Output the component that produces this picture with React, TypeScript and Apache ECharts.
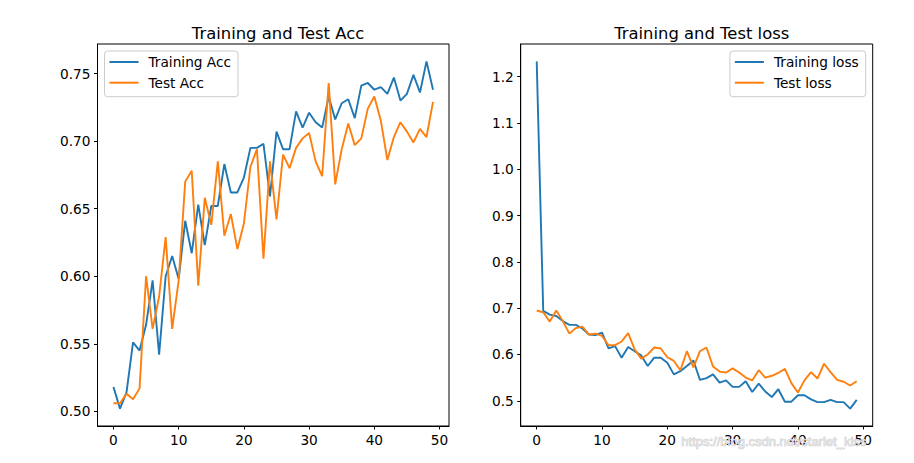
import React, { useEffect, useRef } from "react";
import * as echarts from "echarts";

const trainAcc = [0.518,0.502,0.514,0.551,0.545,0.564,0.597,0.542,0.600,0.615,0.598,0.641,0.617,0.653,0.623,0.652,0.652,0.683,0.662,0.662,0.673,0.695,0.695,0.698,0.659,0.707,0.694,0.694,0.722,0.710,0.721,0.714,0.710,0.733,0.716,0.728,0.731,0.717,0.741,0.743,0.738,0.740,0.735,0.747,0.730,0.735,0.749,0.736,0.759,0.738];
const testAcc = [0.506,0.506,0.513,0.509,0.517,0.600,0.561,0.585,0.629,0.561,0.597,0.670,0.678,0.593,0.658,0.638,0.685,0.630,0.646,0.620,0.639,0.681,0.694,0.613,0.685,0.642,0.690,0.680,0.695,0.702,0.706,0.685,0.674,0.743,0.668,0.694,0.713,0.697,0.702,0.724,0.733,0.715,0.686,0.703,0.714,0.707,0.699,0.709,0.703,0.729];
const trainLoss = [1.233,0.694,0.686,0.683,0.672,0.664,0.664,0.656,0.643,0.642,0.647,0.613,0.618,0.593,0.616,0.607,0.598,0.575,0.593,0.593,0.582,0.557,0.564,0.575,0.587,0.545,0.549,0.557,0.539,0.544,0.530,0.530,0.542,0.519,0.537,0.520,0.508,0.525,0.498,0.498,0.512,0.512,0.503,0.497,0.497,0.502,0.497,0.497,0.483,0.502];
const testLoss = [0.695,0.691,0.671,0.695,0.672,0.645,0.657,0.660,0.643,0.645,0.640,0.620,0.620,0.628,0.646,0.611,0.591,0.600,0.615,0.613,0.594,0.586,0.566,0.607,0.572,0.607,0.615,0.574,0.563,0.561,0.570,0.561,0.550,0.544,0.566,0.550,0.554,0.560,0.569,0.538,0.518,0.544,0.562,0.548,0.580,0.562,0.545,0.541,0.533,0.542];

const xTicks = [0, 10, 20, 30, 40, 50];
const accTicks = [0.50, 0.55, 0.60, 0.65, 0.70, 0.75];
const lossTicks = [0.5, 0.6, 0.7, 0.8, 0.9, 1.0, 1.1, 1.2];

const titles = ["Training and Test Acc", "Training and Test loss"];
const seriesNames = ["Training Acc", "Test Acc", "Training loss", "Test loss"];
const watermark = "https://blog.csdn.net/starlet_kiss";

const BLUE = "#1f77b4";
const ORANGE = "#ff7f0e";
const FONT = "DejaVu Sans";

function pairs(arr: number[]) {
  return arr.map((v, i) => [i, v]);
}
function padRange(arrs: number[][]) {
  const all = arrs.flat();
  const lo = Math.min(...all);
  const hi = Math.max(...all);
  const m = (hi - lo) * 0.05;
  return [lo - m, hi + m];
}

export default function App() {
  const ref = useRef<HTMLDivElement>(null);
  useEffect(() => {
    if (!ref.current) return;
    const chart = echarts.init(ref.current, null, { renderer: "svg" });
    const n = trainAcc.length;
    const xMin = -(n - 1) * 0.05;
    const xMax = (n - 1) * 1.05;
    const [accMin, accMax] = padRange([trainAcc, testAcc]);
    const [lossMin, lossMax] = padRange([trainLoss, testLoss]);

    const xAxisBase = (gridIndex: number) => ({
      type: "value",
      gridIndex,
      min: xMin,
      max: xMax,
      axisLine: { show: true, onZero: false, lineStyle: { color: "#000", width: 1 } },
      axisTick: { show: true, length: 3.5, customValues: xTicks, lineStyle: { color: "#000", width: 1 } },
      axisLabel: {
        show: true,
        customValues: xTicks,
        margin: 7,
        color: "#000",
        fontSize: 13.7,
        fontFamily: FONT,
        formatter: (v: number) => String(v),
      },
      splitLine: { show: false },
    });
    const yAxisBase = (gridIndex: number, min: number, max: number, ticks: number[], dec: number) => ({
      type: "value",
      gridIndex,
      min,
      max,
      axisLine: { show: true, onZero: false, lineStyle: { color: "#000", width: 1 } },
      axisTick: { show: true, length: 3.5, customValues: ticks, lineStyle: { color: "#000", width: 1 } },
      axisLabel: {
        show: true,
        customValues: ticks,
        margin: 7,
        color: "#000",
        fontSize: 13.7,
        fontFamily: FONT,
        formatter: (v: number) => v.toFixed(dec),
      },
      splitLine: { show: false },
    });

    const legendBase = {
      orient: "vertical",
      top: 51,
      icon: "rect",
      itemWidth: 29,
      itemHeight: 2,
      itemGap: 4.7,
      padding: [3, 7, 6, 5],
      backgroundColor: "rgba(255,255,255,0.8)",
      borderColor: "#cccccc",
      borderWidth: 1,
      borderRadius: 3,
      textStyle: {
        color: "#000",
        fontSize: 13.7,
        fontFamily: FONT,
        lineHeight: 16,
        padding: [0, 0, 0, 5],
      },
    };

    const lineSeries = (name: string, data: number[], color: string, idx: number) => ({
      type: "line",
      name,
      data: pairs(data),
      xAxisIndex: idx,
      yAxisIndex: idx,
      showSymbol: false,
      symbol: "none",
      color,
      lineStyle: { color, width: 1.9 },
      emphasis: { disabled: true },
    });

    chart.setOption({
      animation: false,
      backgroundColor: "#fff",
      title: [
        {
          text: titles[0],
          left: 273,
          top: 20,
          textAlign: "center",
          textStyle: { fontSize: 16.4, fontWeight: "normal", color: "#000", fontFamily: FONT },
        },
        {
          text: titles[1],
          left: 696.7,
          top: 20,
          textAlign: "center",
          textStyle: { fontSize: 16.4, fontWeight: "normal", color: "#000", fontFamily: FONT },
        },
      ],
      grid: [
        { left: 97.5, top: 44, width: 351.5, height: 382, show: true, borderColor: "#000", borderWidth: 1, backgroundColor: "#fff" },
        { left: 520.7, top: 44, width: 352, height: 382, show: true, borderColor: "#000", borderWidth: 1, backgroundColor: "#fff" },
      ],
      xAxis: [xAxisBase(0), xAxisBase(1)],
      yAxis: [
        yAxisBase(0, accMin, accMax, accTicks, 2),
        yAxisBase(1, lossMin, lossMax, lossTicks, 1),
      ],
      legend: [
        { ...legendBase, left: 104.5, data: [seriesNames[0], seriesNames[1]] },
        { ...legendBase, right: 48.3, data: [seriesNames[2], seriesNames[3]] },
      ],
      series: [
        lineSeries(seriesNames[0], trainAcc, BLUE, 0),
        lineSeries(seriesNames[1], testAcc, ORANGE, 0),
        lineSeries(seriesNames[2], trainLoss, BLUE, 1),
        lineSeries(seriesNames[3], testLoss, ORANGE, 1),
      ],
      graphic: [
        {
          type: "text",
          left: 681,
          top: 435,
          z: 100,
          style: {
            text: watermark,
            fill: "#e4e4e4",
            stroke: "#bdbdbd",
            lineWidth: 0.6,
            fontSize: 13,
            fontFamily: "Liberation Sans",
          },
        },
      ],
    });
    return () => chart.dispose();
  }, []);
  return (
    <div
      ref={ref}
      style={{ position: "fixed", left: 0, top: 0, width: 914, height: 463, background: "#fff" }}
    />
  );
}
